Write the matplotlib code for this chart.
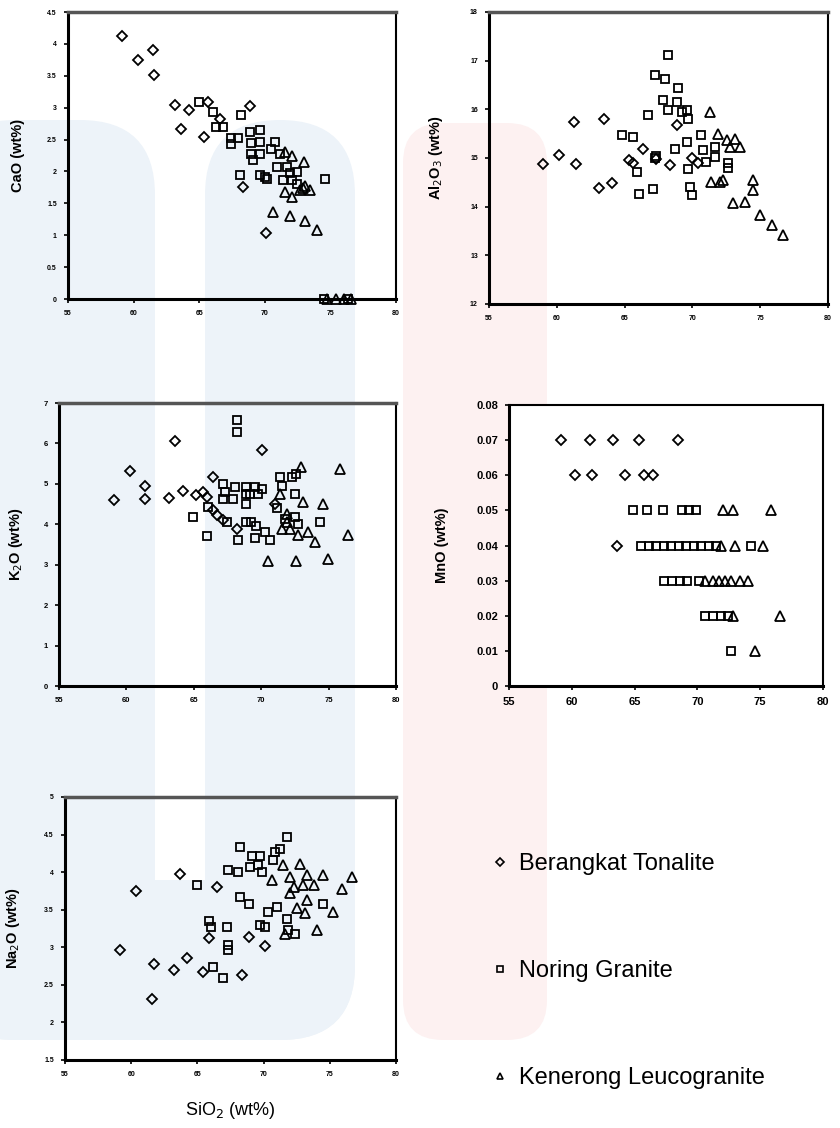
import matplotlib
matplotlib.use('Agg')
import matplotlib.pyplot as plt
from matplotlib.lines import Line2D
from matplotlib.patches import FancyBboxPatch, Rectangle
from matplotlib.transforms import IdentityTransform

plt.rcParams['font.family'] = ['Liberation Sans', 'DejaVu Sans']

groups = ['Berangkat Tonalite', 'Noring Granite', 'Kenerong Leucogranite']
markers = ['D', 's', '^']
msizes = [5.5, 6.0, 7.0]

# (SiO2, oxide) pairs
cao_tonalite = [(59.1, 4.13), (60.3, 3.75), (61.5, 3.90), (61.55, 3.51), (63.15, 3.05), (63.6, 2.66),
                (64.2, 2.97), (65.35, 2.54), (65.7, 3.09), (66.55, 2.83), (68.9, 3.03), (68.35, 1.75),
                (70.05, 1.04)]
cao_noring = [(64.95, 3.09), (66.05, 2.93), (66.3, 2.70), (66.8, 2.70), (67.45, 2.52), (67.4, 2.43),
              (67.95, 2.52), (68.2, 2.88), (68.85, 2.62), (69.6, 2.65), (69.6, 2.46), (68.98, 2.44),
              (68.98, 2.28), (69.6, 2.28), (69.1, 2.18), (70.76, 2.46), (70.5, 2.36), (71.14, 2.28),
              (70.89, 2.07), (71.66, 2.07), (71.9, 1.97), (72.42, 1.99), (71.4, 1.86), (72.04, 1.86),
              (72.42, 1.81), (68.1, 1.94), (69.6, 1.94), (70.0, 1.91), (70.2, 1.89), (74.55, 1.89),
              (74.5, 0.0), (76.3, 0.0)]
cao_kenerong = [(71.53, 2.31), (72.05, 2.25), (72.95, 2.15), (71.55, 1.68), (72.05, 1.60), (72.7, 1.71),
                (72.9, 1.74), (73.05, 1.78), (73.45, 1.71), (70.6, 1.36), (71.9, 1.30), (73.05, 1.23),
                (74.0, 1.08), (74.7, 0.0), (75.4, 0.0), (76.0, 0.0), (76.6, 0.0)]

al_tonalite = [(59.0, 14.87), (60.2, 15.07), (61.3, 15.73), (61.4, 14.87), (63.1, 14.39), (63.5, 15.81),
               (64.05, 14.48), (65.35, 14.95), (65.6, 14.89), (66.37, 15.19), (67.3, 14.97), (68.34, 14.85),
               (68.83, 15.67), (69.94, 14.99), (70.42, 14.89)]
al_noring = [(64.78, 15.47), (65.64, 15.43), (65.95, 14.72), (66.08, 14.27), (66.74, 15.88), (67.23, 14.99),
             (67.29, 15.05), (67.1, 14.37), (67.23, 16.70), (67.97, 16.63), (68.21, 17.11), (67.84, 16.19),
             (68.21, 15.98), (68.83, 16.15), (68.95, 16.43), (69.2, 15.95), (69.57, 15.98), (69.69, 15.81),
             (69.57, 15.33), (68.7, 15.19), (69.69, 14.78), (69.81, 14.41), (69.94, 14.24), (70.67, 15.47),
             (70.79, 15.16), (71.65, 15.23), (71.65, 15.02), (71.04, 14.92), (72.64, 14.89), (72.64, 14.80)]
al_kenerong = [(71.29, 15.95), (71.9, 15.50), (72.52, 15.37), (73.13, 15.40), (73.5, 15.23), (72.76, 15.23),
               (71.41, 14.51), (72.0, 14.51), (72.26, 14.54), (74.48, 14.54), (74.45, 14.34), (73.0, 14.07),
               (73.87, 14.10), (74.98, 13.83), (75.84, 13.62), (76.65, 13.42)]

k_tonalite = [(59.05, 4.59), (60.25, 5.33), (61.4, 4.95), (61.4, 4.62), (63.15, 4.65), (63.6, 6.05),
              (64.2, 4.82), (65.2, 4.72), (65.7, 4.80), (65.95, 4.67), (66.43, 5.17), (66.45, 4.35),
              (66.7, 4.22), (67.2, 4.10), (68.17, 3.89), (70.07, 5.83), (71.0, 4.50)]
k_noring = [(64.95, 4.18), (65.95, 3.72), (66.06, 4.43), (67.18, 5.0), (67.3, 4.80), (67.18, 4.63),
            (67.92, 4.63), (68.04, 4.92), (68.9, 4.92), (69.53, 4.92), (70.03, 4.88), (68.9, 4.76),
            (69.16, 4.76), (69.77, 4.76), (68.9, 4.51), (68.17, 6.57), (68.17, 6.28), (67.43, 4.06),
            (68.29, 3.60), (68.9, 4.06), (69.28, 4.06), (69.65, 3.97), (69.53, 3.65), (70.27, 3.81),
            (70.64, 3.60), (71.38, 5.17), (72.25, 5.17), (72.62, 5.25), (71.51, 4.96), (72.5, 4.76),
            (71.14, 4.40), (72.5, 4.18), (72.74, 4.02), (71.75, 4.14), (74.4, 4.06)]
k_kenerong = [(72.99, 5.42), (75.84, 5.38), (71.38, 4.76), (73.11, 4.55), (74.55, 4.51), (71.88, 4.26),
              (71.88, 4.06), (71.51, 3.89), (72.13, 3.89), (72.75, 3.73), (73.49, 3.81), (73.98, 3.56),
              (76.45, 3.73), (70.52, 3.09), (72.62, 3.09), (74.97, 3.15)]

mn_tonalite = [(59.16, 0.07), (61.47, 0.07), (63.28, 0.07), (65.35, 0.07), (68.45, 0.07),
               (60.23, 0.06), (61.6, 0.06), (64.26, 0.06), (65.72, 0.06), (66.46, 0.06), (63.6, 0.04)]
mn_noring = [(64.87, 0.05), (65.98, 0.05), (67.25, 0.05), (68.77, 0.05), (69.33, 0.05), (69.9, 0.05),
             (65.53, 0.04), (66.14, 0.04), (66.72, 0.04), (67.33, 0.04), (67.92, 0.04), (68.53, 0.04),
             (69.11, 0.04), (69.72, 0.04), (70.3, 0.04), (70.92, 0.04), (71.5, 0.04), (74.23, 0.04),
             (67.3, 0.03), (67.95, 0.03), (68.6, 0.03), (69.2, 0.03), (70.15, 0.03),
             (70.57, 0.02), (71.23, 0.02), (71.9, 0.02), (72.43, 0.02), (72.7, 0.01)]
mn_kenerong = [(72.03, 0.05), (72.82, 0.05), (75.88, 0.05), (71.9, 0.04), (72.96, 0.04), (75.21, 0.04),
               (70.57, 0.03), (71.23, 0.03), (71.7, 0.03), (72.16, 0.03), (72.7, 0.03), (73.35, 0.03),
               (74.02, 0.03), (72.83, 0.02), (76.54, 0.02), (74.55, 0.01)]

na_tonalite = [(59.15, 2.97), (60.35, 3.75), (61.55, 2.31), (61.7, 2.78), (63.25, 2.70), (63.7, 3.98),
               (64.25, 2.86), (65.4, 2.67), (65.85, 3.12), (66.5, 3.80), (68.4, 2.63), (68.86, 3.14),
               (70.1, 3.02)]
na_noring = [(64.95, 3.83), (65.9, 3.35), (66.05, 3.27), (66.2, 2.74), (66.95, 2.59), (67.25, 3.27),
             (67.29, 3.03), (67.29, 2.96), (67.34, 4.03), (68.1, 4.0), (68.23, 4.34), (68.23, 3.67),
             (68.86, 3.58), (69.0, 4.07), (69.11, 4.22), (69.61, 4.09), (69.74, 4.22), (69.87, 4.0),
             (69.74, 3.29), (70.12, 3.27), (70.37, 3.47), (71.0, 3.54), (70.74, 4.16), (70.87, 4.27),
             (71.25, 4.31), (71.76, 4.47), (71.76, 3.38), (71.88, 3.23), (72.38, 3.18), (74.52, 3.58)]
na_kenerong = [(70.62, 3.89), (71.5, 4.09), (72.01, 3.94), (72.76, 4.11), (73.27, 3.96), (73.77, 3.83),
               (72.26, 3.80), (73.01, 3.83), (72.01, 3.72), (73.27, 3.63), (72.51, 3.52), (73.14, 3.45),
               (74.52, 3.96), (75.91, 3.78), (76.67, 3.94), (75.28, 3.47), (74.02, 3.23), (71.63, 3.18)]

x_ticks = [55, 60, 65, 70, 75, 80]
cao_ticks = [0, 0.5, 1, 1.5, 2, 2.5, 3, 3.5, 4, 4.5]
al_ticks = [12, 13, 14, 15, 16, 17, 18]
k_ticks = [0, 1, 2, 3, 4, 5, 6, 7]
mn_ticks = [0, 0.01, 0.02, 0.03, 0.04, 0.05, 0.06, 0.07, 0.08]
na_ticks = [1.5, 2, 2.5, 3, 3.5, 4, 4.5, 5]

W, H = 840, 1128


def fmt(v):
    return ('%g' % v)


def panel(ax, sets, yticks, ylabel, tick_fs, label_x, white=False):
    for pts, m, ms in zip(sets, markers, msizes):
        xs = [p[0] for p in pts]
        ys = [p[1] for p in pts]
        ax.plot(xs, ys, linestyle='none', marker=m, markersize=ms, markerfacecolor='none',
                markeredgecolor='black', markeredgewidth=1.3, clip_on=False, zorder=3)
    ax.set_xlim(x_ticks[0], x_ticks[-1])
    ax.set_ylim(yticks[0], yticks[-1])
    ax.set_xticks(x_ticks)
    ax.set_xticklabels([fmt(v) for v in x_ticks], fontsize=tick_fs, fontweight='bold')
    ax.set_yticks(yticks)
    ax.set_yticklabels([fmt(v) for v in yticks], fontsize=tick_fs, fontweight='bold')
    ax.tick_params(direction='out', length=3, width=1.2, pad=5)
    ax.set_ylabel(ylabel, fontsize=10.5, fontweight='bold')
    ax.yaxis.set_label_coords(label_x, 0.5)
    if not white:
        ax.patch.set_alpha(0)
    for s in ['left', 'bottom']:
        ax.spines[s].set_linewidth(2.2)
    ax.spines['right'].set_linewidth(1.5)
    ax.spines['top'].set_linewidth(2.5)
    ax.spines['top'].set_color('#555555')


def wm_box(fig, x0, y0, x1, y1, r, color):
    # faint background logo piece, given in pixels from the top-left corner
    if r > 0:
        p = FancyBboxPatch((x0 + r, H - y1 + r), x1 - x0 - 2 * r, y1 - y0 - 2 * r,
                           boxstyle='round,pad=%g' % r, transform=IdentityTransform(),
                           facecolor=color, edgecolor='none', zorder=-5)
    else:
        p = Rectangle((x0, H - y1), x1 - x0, y1 - y0, transform=IdentityTransform(),
                      facecolor=color, edgecolor='none', zorder=-5)
    fig.patches.append(p)


fig = plt.figure(figsize=(8.4, 11.28), dpi=100)

blue = '#edf3f9'
pink = '#fdf1f1'
wm_box(fig, -60, 120, 155, 1040, 75, blue)
wm_box(fig, 205, 120, 355, 1040, 75, blue)
wm_box(fig, -60, 880, 355, 1040, 75, blue)
wm_box(fig, 150, 880, 210, 905, 0, blue)
wm_box(fig, 403, 123, 547, 1040, 40, pink)

ax1 = fig.add_axes([0.081, 0.7349, 0.3905, 0.2544])
panel(ax1, [cao_tonalite, cao_noring, cao_kenerong], cao_ticks, 'CaO (wt%)', 5, -0.13)

ax2 = fig.add_axes([0.5821, 0.7305, 0.4036, 0.2589])
panel(ax2, [al_tonalite, al_noring, al_kenerong], al_ticks, 'Al$_2$O$_3$ (wt%)', 5, -0.13)

ax3 = fig.add_axes([0.0702, 0.3918, 0.4012, 0.2509])
panel(ax3, [k_tonalite, k_noring, k_kenerong], k_ticks, 'K$_2$O (wt%)', 5.5, -0.10)

ax4 = fig.add_axes([0.606, 0.3918, 0.3738, 0.2491])
panel(ax4, [mn_tonalite, mn_noring, mn_kenerong], mn_ticks, 'MnO (wt%)', 8, -0.19, white=True)
ax4.spines['top'].set_linewidth(1.5)
ax4.spines['top'].set_color('black')

ax5 = fig.add_axes([0.0774, 0.0603, 0.394, 0.2332])
panel(ax5, [na_tonalite, na_noring, na_kenerong], na_ticks, 'Na$_2$O (wt%)', 5, -0.13)
ax5.set_xlabel('SiO$_2$ (wt%)', fontsize=13, labelpad=16)

handles = [Line2D([], [], linestyle='none', marker=m, markersize=4.5, markerfacecolor='none',
                  markeredgecolor='black', markeredgewidth=1.2) for m in markers]
fig.legend(handles, groups, loc='center left', bbox_to_anchor=(0.562, 0.139), frameon=False,
           labelspacing=3.6, handlelength=0.6, handletextpad=0.5,
           prop={'family': ['Liberation Sans Narrow', 'Liberation Sans'], 'size': 17})

fig.savefig('out.png', dpi=100)
